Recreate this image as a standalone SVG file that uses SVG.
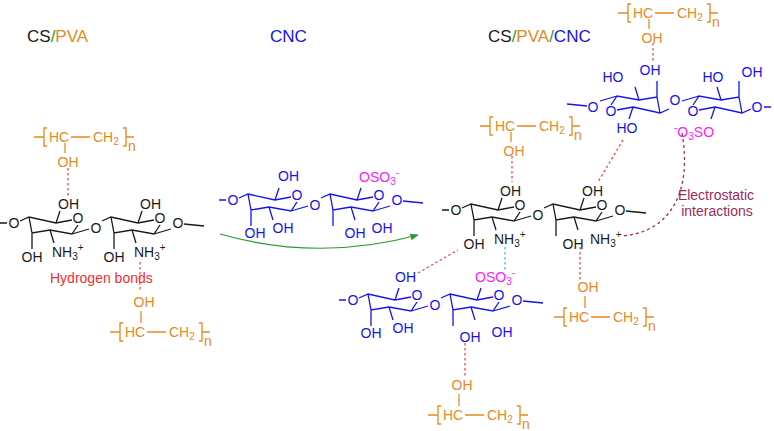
<svg xmlns="http://www.w3.org/2000/svg" xmlns:xlink="http://www.w3.org/1999/xlink" width="774" height="431" viewBox="0 0 774 431">
<style>
text{font-family:"Liberation Sans",Arial,sans-serif;font-size:14px}
.k{fill:#1a1a1a}.b{fill:#1414f0}.m{fill:#ff1aff}.o{fill:#e8891c}
.sk{fill:none;stroke-width:1.3}
.hb{fill:none;stroke:#f04848;stroke-width:1.3;stroke-dasharray:2.5,2.5}
.mid{text-anchor:middle}
.t{font-size:17px}
.s{font-size:10px}
</style>
<defs>
<path id="u" d="M6,-2 L15,-6 L42,0 L58,-3 M64,2 L58,11 L36,7 L18,10 L15,-6 M42,0 L46,-12 M18,10 V26 M36,7 L40,20 M58,11 L75,6"/>
<g id="d"><path d="M-14,0 H-7 M170,1 L190,3"/><use xlink:href="#u"/><use xlink:href="#u" x="82"/></g>
<g id="pva"><path d="M-12,-5 H-2 M1,-14 H-2 V4 H1 M25,-5 H44 M77,-14 H80 V4 H77 M80,-5 H88"/></g>
<marker id="ah" viewBox="0 0 10 10" refX="9" refY="5" markerWidth="7" markerHeight="7" orient="auto"><path d="M0,1 L10,5 L0,9 z" fill="#2a9a2a"/></marker>
</defs>

<g id="titles">
<text x="27" y="42" class="t k">CS<tspan fill="#2a9a2a">/</tspan><tspan class="o">PVA</tspan></text>
<text x="270" y="42" class="t b">CNC</text>
<text x="488" y="42" class="t k">CS<tspan fill="#2a9a2a">/</tspan><tspan class="o">PVA</tspan><tspan fill="#2a9a2a">/</tspan><tspan class="b">CNC</tspan></text>
</g>

<g id="connectors">
<path class="hb" d="M68,168 V196"/>
<path class="hb" d="M140,262 V292"/>
<path class="hb" d="M512,156 V182"/>
<path class="hb" d="M653,43 V62"/>
<path class="hb" d="M623,140 L598,182"/>
<path class="hb" d="M580,247 V280"/>
<path class="hb" d="M418,273 L458,250"/>
<path class="hb" d="M465,343 V377"/>
<path d="M505,247 V270" fill="none" stroke="#3cc0e0" stroke-width="1.3" stroke-dasharray="2.5,2.5"/>
<path d="M682,133 C692,190 672,232 622,236" fill="none" stroke="#9b2c5a" stroke-width="1.3" stroke-dasharray="3,3"/>
<path d="M220,234 Q318,262 418,235" fill="none" stroke="#2a9a2a" stroke-width="1.2" marker-end="url(#ah)"/>
<text x="50" y="283" fill="#f03030" font-size="12">Hydrogen bonds</text>
<text x="716" y="200" fill="#9b2c5a" font-size="11" class="mid">Electrostatic</text>
<text x="717" y="216" fill="#9b2c5a" font-size="11" class="mid">interactions</text>
</g>

<g id="cs-left" transform="translate(14,223)">
<use xlink:href="#d" class="sk" stroke="#1a1a1a"/>
<g class="k">
<text x="0" y="5" class="mid">O</text><text x="64" y="0" class="mid">O</text><text x="146" y="0" class="mid">O</text>
<text x="82" y="10" class="mid">O</text><text x="164" y="5" class="mid">O</text>
<text x="44" y="-14">OH</text><text x="126" y="-14">OH</text>
<text x="18" y="39" class="mid">OH</text><text x="100" y="39" class="mid">OH</text>
<text x="38" y="34">NH<tspan class="s" dy="3">3</tspan><tspan class="s" dy="-9">+</tspan></text>
<text x="120" y="34">NH<tspan class="s" dy="3">3</tspan><tspan class="s" dy="-9">+</tspan></text>
</g></g>

<g id="cs-right" transform="translate(456,210)">
<use xlink:href="#d" class="sk" stroke="#1a1a1a"/>
<g class="k">
<text x="0" y="5" class="mid">O</text><text x="64" y="0" class="mid">O</text><text x="146" y="0" class="mid">O</text>
<text x="82" y="10" class="mid">O</text><text x="164" y="5" class="mid">O</text>
<text x="44" y="-14">OH</text><text x="126" y="-14">OH</text>
<text x="18" y="39" class="mid">OH</text><text x="117" y="39" class="mid">OH</text>
<text x="38" y="34">NH<tspan class="s" dy="3">3</tspan><tspan class="s" dy="-9">+</tspan></text>
<text x="134" y="34">NH<tspan class="s" dy="3">3</tspan><tspan class="s" dy="-9">+</tspan></text>
</g></g>

<g id="cnc-mid" transform="translate(233,200)">
<use xlink:href="#d" class="sk" stroke="#1414f0"/>
<g class="b">
<text x="0" y="5" class="mid">O</text><text x="64" y="0" class="mid">O</text><text x="146" y="0" class="mid">O</text>
<text x="82" y="10" class="mid">O</text><text x="164" y="5" class="mid">O</text>
<text x="45" y="-19">OH</text>
<text x="22" y="38" class="mid">OH</text><text x="50" y="33" class="mid">OH</text>
<text x="122" y="38" class="mid">OH</text><text x="149" y="33" class="mid">OH</text>
</g>
<text x="126" y="-18" class="m">OSO<tspan class="s" dy="3">3</tspan><tspan class="s" dy="-9">-</tspan></text>
</g>

<g id="cnc-bottom" transform="translate(353,300)">
<use xlink:href="#d" class="sk" stroke="#1414f0"/>
<g class="b">
<text x="0" y="5" class="mid">O</text><text x="64" y="0" class="mid">O</text><text x="146" y="0" class="mid">O</text>
<text x="82" y="10" class="mid">O</text><text x="164" y="5" class="mid">O</text>
<text x="42" y="-18">OH</text>
<text x="18" y="38" class="mid">OH</text><text x="50" y="33" class="mid">OH</text>
<text x="117" y="42" class="mid">OH</text><text x="149" y="37" class="mid">OH</text>
</g>
<text x="122" y="-18" class="m">OSO<tspan class="s" dy="3">3</tspan><tspan class="s" dy="-9">-</tspan></text>
</g>

<g id="cnc-top">
<use xlink:href="#d" class="sk" stroke="#1414f0" transform="translate(757,107) rotate(180)"/>
<g class="b">
<text x="757" y="112" class="mid">O</text><text x="693" y="116" class="mid">O</text><text x="611" y="116" class="mid">O</text>
<text x="675" y="105" class="mid">O</text><text x="593" y="112" class="mid">O</text>
<text x="613" y="82" class="mid">HO</text><text x="650" y="75" class="mid">OH</text>
<text x="713" y="82" class="mid">HO</text><text x="752" y="77" class="mid">OH</text>
<text x="627" y="133" class="mid">HO</text>
</g>
<text x="674" y="137" class="m"><tspan class="s" dy="-6">-</tspan><tspan dy="6">O</tspan><tspan class="s" dy="3">3</tspan><tspan dy="-3">SO</tspan></text>
</g>

<g id="pva-1" transform="translate(46,142)" class="o">
<use xlink:href="#pva" class="sk" stroke="#e8891c"/><path class="sk" stroke="#e8891c" d="M19,1 V11"/>
<text x="3" y="0" font-size="14">HC</text><text x="47" y="0" font-size="14">CH<tspan class="s" dy="3">2</tspan></text><text x="82" y="9" font-size="12">n</text>
<text x="22" y="25" class="mid" font-size="14">OH</text></g>

<g id="pva-2" transform="translate(122,337)" class="o">
<use xlink:href="#pva" class="sk" stroke="#e8891c"/><path class="sk" stroke="#e8891c" d="M19,-14 V-26"/>
<text x="3" y="0" font-size="14">HC</text><text x="47" y="0" font-size="14">CH<tspan class="s" dy="3">2</tspan></text><text x="82" y="9" font-size="12">n</text>
<text x="22" y="-30" class="mid" font-size="14">OH</text></g>

<g id="pva-3" transform="translate(630,18)" class="o">
<use xlink:href="#pva" class="sk" stroke="#e8891c"/><path class="sk" stroke="#e8891c" d="M19,1 V11"/>
<text x="3" y="0" font-size="14">HC</text><text x="47" y="0" font-size="14">CH<tspan class="s" dy="3">2</tspan></text><text x="82" y="9" font-size="12">n</text>
<text x="22" y="25" class="mid" font-size="14">OH</text></g>

<g id="pva-4" transform="translate(492,131)" class="o">
<use xlink:href="#pva" class="sk" stroke="#e8891c"/><path class="sk" stroke="#e8891c" d="M19,1 V11"/>
<text x="3" y="0" font-size="14">HC</text><text x="47" y="0" font-size="14">CH<tspan class="s" dy="3">2</tspan></text><text x="82" y="9" font-size="12">n</text>
<text x="22" y="25" class="mid" font-size="14">OH</text></g>

<g id="pva-5" transform="translate(566,322)" class="o">
<use xlink:href="#pva" class="sk" stroke="#e8891c"/><path class="sk" stroke="#e8891c" d="M19,-14 V-26"/>
<text x="3" y="0" font-size="14">HC</text><text x="47" y="0" font-size="14">CH<tspan class="s" dy="3">2</tspan></text><text x="82" y="9" font-size="12">n</text>
<text x="22" y="-30" class="mid" font-size="14">OH</text></g>

<g id="pva-6" transform="translate(440,420)" class="o">
<use xlink:href="#pva" class="sk" stroke="#e8891c"/><path class="sk" stroke="#e8891c" d="M19,-14 V-26"/>
<text x="3" y="0" font-size="14">HC</text><text x="47" y="0" font-size="14">CH<tspan class="s" dy="3">2</tspan></text><text x="82" y="9" font-size="12">n</text>
<text x="22" y="-30" class="mid" font-size="14">OH</text></g>
</svg>
